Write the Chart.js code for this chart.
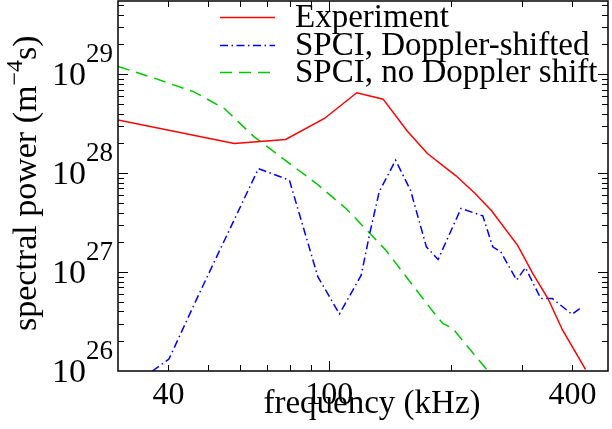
<!DOCTYPE html>
<html>
<head>
<meta charset="utf-8">
<script src="https://cdn.jsdelivr.net/npm/chart.js@4.4.1/dist/chart.umd.min.js"></script>
<style>
  html, body { margin: 0; padding: 0; background: #fff; }
  #wrap { width: 612px; height: 429px; }
</style>
</head>
<body>
<div id="wrap"><canvas id="spectrumChart" width="612" height="429"></canvas></div>
<script>
// Values: frequency in kHz, spectral power in m^-4 s
const expFreq = [30, 58.2, 78.0, 97.3, 117, 136, 156, 175, 206, 229, 252, 293, 319, 348, 378, 431];
const expPower = [3.45e28, 2.0e28, 2.19e28, 3.57e28, 6.5e28, 5.6e28, 2.67e28, 1.58e28, 9.4e27, 6.3e27, 4.2e27, 1.85e27, 9.7e26, 5.4e26, 2.6e26, 1.04e26];

const dopFreq = [36.5, 40.1, 47.7, 66.8, 79.7, 93.7, 106, 120, 126, 133, 146, 159, 174, 186, 212, 240, 254, 266, 291, 306, 334, 357, 399, 423];
const dopPower = [1.0e26, 1.32e26, 6.1e26, 1.11e28, 8.5e27, 9.0e26, 3.77e26, 9.3e26, 2.46e27, 6.5e27, 1.35e28, 6.7e27, 1.8e27, 1.34e27, 4.4e27, 3.7e27, 1.8e27, 1.6e27, 8.3e26, 1.11e27, 5.4e26, 5.4e26, 3.74e26, 4.46e26];

const noDopFreq = [30, 36.1, 46.4, 55.0, 65.2, 76.7, 92.8, 110, 138, 182, 191, 202, 247];
const noDopPower = [1.2e29, 9.4e28, 6.6e28, 4.5e28, 2.33e28, 1.41e28, 7.9e27, 4.4e27, 1.67e27, 3.83e26, 3.03e26, 2.7e26, 1.0e26];

const seriesLabels = ['Experiment', 'SPCI, Doppler-shifted', 'SPCI, no Doppler shift'];
const xTickLabels = [40, 100, 400];
const yTickExponents = [26, 27, 28, 29];
const xRange = [30, 490];
const yRange = [1e26, 5.5e29];

const serif = '"Liberation Serif", "DejaVu Serif", serif';
Chart.defaults.font.family = serif;
Chart.defaults.color = '#000';

function toPoints(xs, ys) {
    return xs.map((v, i) => ({ x: v, y: ys[i] }));
}

// log-spaced tick values (1..9 x 10^n) strictly inside a range
function logTickValues(min, max) {
    const out = [];
    for (let e = Math.floor(Math.log10(min)); e <= Math.ceil(Math.log10(max)); e++) {
        for (let s = 1; s < 10; s++) {
            const v = s * Math.pow(10, e);
            if (v > min * 1.0001 && v < max * 0.9999) out.push({ v: v, major: s === 1 });
        }
    }
    return out;
}

// Frame, inward ticks on all sides, y labels with exponents, axis titles, legend
const framePlugin = {
    id: 'framePlugin',
    afterDraw(chart) {
        const ctx = chart.ctx;
        const area = chart.chartArea;
        const xs = chart.scales.x;
        const ys = chart.scales.y;
        ctx.save();

        // ticks
        ctx.strokeStyle = '#000';
        ctx.lineWidth = 1;
        ctx.beginPath();
        logTickValues(xs.min, xs.max).forEach(t => {
            const px = Math.round(xs.getPixelForValue(t.v)) + 0.5;
            const len = t.major ? 10 : 6;
            ctx.moveTo(px, area.bottom); ctx.lineTo(px, area.bottom - len);
            ctx.moveTo(px, area.top); ctx.lineTo(px, area.top + len);
        });
        logTickValues(ys.min, ys.max).forEach(t => {
            const py = Math.round(ys.getPixelForValue(t.v)) + 0.5;
            const len = t.major ? 10 : 6;
            ctx.moveTo(area.left, py); ctx.lineTo(area.left + len, py);
            ctx.moveTo(area.right, py); ctx.lineTo(area.right - len, py);
        });
        ctx.stroke();

        // frame
        ctx.lineWidth = 1.5;
        ctx.strokeRect(area.left, area.top, area.right - area.left, area.bottom - area.top);

        // y tick labels 10^n
        ctx.fillStyle = '#000';
        ctx.textBaseline = 'alphabetic';
        yTickExponents.forEach(e => {
            const py = ys.getPixelForValue(Math.pow(10, e));
            ctx.font = '27px ' + serif;
            ctx.textAlign = 'right';
            const supW = ctx.measureText(String(e)).width;
            ctx.fillText(String(e), area.left - 5, py - 12);
            ctx.font = '34px ' + serif;
            ctx.fillText('10', area.left - 5 - supW, py + 11);
        });

        // x axis title
        ctx.font = '33px ' + serif;
        ctx.textAlign = 'center';
        ctx.fillText('frequency (kHz)', 372, 413);

        // y axis title
        ctx.save();
        ctx.translate(36, 331);
        ctx.rotate(-Math.PI / 2);
        ctx.textAlign = 'left';
        ctx.font = '34px ' + serif;
        const part1 = 'spectral power (m';
        ctx.fillText(part1, 0, 0);
        let w = ctx.measureText(part1).width;
        ctx.font = '24px ' + serif;
        ctx.fillText('\u22124', w, -14);
        w += ctx.measureText('\u22124').width;
        ctx.font = '34px ' + serif;
        ctx.fillText('s)', w, 0);
        ctx.restore();

        // legend
        const rowBase = [27, 55, 82];
        chart.data.datasets.forEach((ds, i) => {
            const ly = rowBase[i] - 9.5;
            ctx.strokeStyle = ds.borderColor;
            ctx.lineWidth = ds.borderWidth;
            ctx.setLineDash(ds.borderDash || []);
            ctx.beginPath();
            ctx.moveTo(220, ly);
            ctx.lineTo(275, ly);
            ctx.stroke();
            ctx.setLineDash([]);
            ctx.font = '33px ' + serif;
            ctx.textAlign = 'left';
            ctx.fillText(ds.label, 295, rowBase[i]);
        });

        ctx.restore();
    }
};

const chartCtx = document.getElementById('spectrumChart');
new Chart(chartCtx, {
    type: 'line',
    data: {
        datasets: [
            {
                label: seriesLabels[0],
                data: toPoints(expFreq, expPower),
                borderColor: '#ff0000',
                borderWidth: 1.5,
                pointRadius: 0,
                tension: 0,
                fill: false
            },
            {
                label: seriesLabels[1],
                data: toPoints(dopFreq, dopPower),
                borderColor: '#0000ff',
                borderWidth: 1.5,
                borderDash: [8, 3.5, 1.5, 3.5],
                pointRadius: 0,
                tension: 0,
                fill: false
            },
            {
                label: seriesLabels[2],
                data: toPoints(noDopFreq, noDopPower),
                borderColor: '#00c800',
                borderWidth: 1.5,
                borderDash: [12, 7],
                pointRadius: 0,
                tension: 0,
                fill: false
            }
        ]
    },
    options: {
        responsive: false,
        animation: false,
        devicePixelRatio: 1,
        layout: {
            padding: { left: 118, right: 4, top: 1, bottom: 0 }
        },
        plugins: {
            legend: { display: false },
            tooltip: { enabled: false }
        },
        scales: {
            x: {
                type: 'logarithmic',
                min: xRange[0],
                max: xRange[1],
                grid: { display: false },
                border: { display: false },
                afterBuildTicks: function(scale) {
                    scale.ticks = xTickLabels.map(v => ({ value: v }));
                },
                afterFit: function(scale) {
                    scale.height = 58;
                },
                ticks: {
                    autoSkip: false,
                    maxRotation: 0,
                    padding: 1,
                    font: { size: 32, lineHeight: 1 },
                    callback: function(value) { return String(value); }
                },
                title: { display: false }
            },
            y: {
                type: 'logarithmic',
                display: false,
                min: yRange[0],
                max: yRange[1]
            }
        }
    },
    plugins: [framePlugin]
});
</script>
</body>
</html>
